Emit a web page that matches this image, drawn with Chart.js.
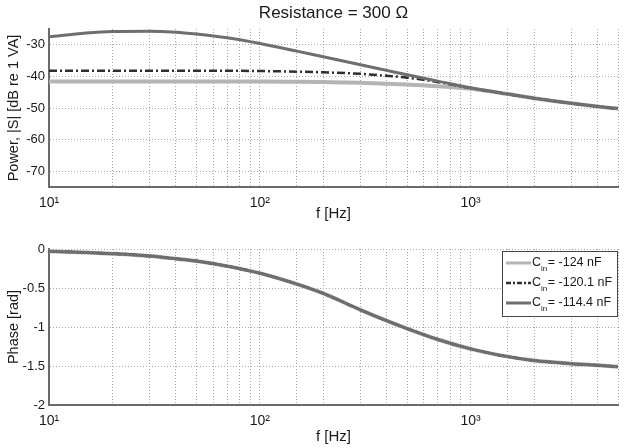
<!DOCTYPE html>
<html>
<head>
<meta charset="utf-8">
<script src="https://cdn.jsdelivr.net/npm/chart.js@4.4.0/dist/chart.umd.min.js"></script>
<style>
  html, body { margin: 0; padding: 0; background: #fff; }
  #wrap { position: relative; width: 626px; height: 448px; }
  .box { position: absolute; left: 0; width: 626px; height: 224px; }
</style>
</head>
<body>
<div id="wrap">
  <div class="box" style="top:0"><canvas id="power"></canvas></div>
  <div class="box" style="top:224px"><canvas id="phase"></canvas></div>
</div>
<script>
// frequencies [Hz]
const freqs = [10, 15, 20, 30, 40, 50, 70, 100, 150, 200, 300, 400, 500, 700, 1000, 1500, 2000, 3000, 4000, 5000];

// power |S| [dB re 1 VA]
const power124 = [-41.6, -41.6, -41.6, -41.6, -41.6, -41.6, -41.6, -41.6, -41.7, -41.8, -42.0, -42.3, -42.6, -43.1, -43.9, -45.6, -46.9, -48.5, -49.5, -50.2];
const power120 = [-38.2, -38.2, -38.2, -38.2, -38.2, -38.2, -38.2, -38.3, -38.5, -38.7, -39.2, -39.8, -40.4, -41.8, -43.7, -45.6, -46.9, -48.5, -49.5, -50.2];
const power114 = [-27.5, -26.3, -25.8, -25.7, -26.0, -26.6, -27.8, -29.6, -32.0, -33.8, -36.3, -38.1, -39.5, -41.5, -43.6, -45.6, -46.9, -48.5, -49.5, -50.2];

// phase [rad] (the three curves lie on top of each other)
const phase = [-0.03, -0.045, -0.06, -0.09, -0.125, -0.155, -0.22, -0.31, -0.45, -0.57, -0.78, -0.92, -1.02, -1.16, -1.28, -1.38, -1.43, -1.47, -1.49, -1.51];

const capLabels = ['-124 nF', '-120.1 nF', '-114.4 nF'];
const powerTicks = [-70, -60, -50, -40, -30];
const phaseTicks = [-2, -1.5, -1, -0.5, 0];
const decadeLabels = { 10: '10\u00B9', 100: '10\u00B2', 1000: '10\u00B3' };

const FONT = '"Liberation Sans", Arial, sans-serif';
Chart.defaults.font.family = FONT;
Chart.defaults.color = '#1a1a1a';

const styles = [
  { borderColor: '#b4b4b4', borderWidth: 4, borderDash: [] },
  { borderColor: '#2e2e2e', borderWidth: 2.5, borderDash: [8, 3, 2, 3] },
  { borderColor: '#6e6e6e', borderWidth: 3, borderDash: [] }
];

function makeDatasets(series) {
  return series.map((vals, i) => ({
    label: 'C_in = ' + capLabels[i],
    data: freqs.map((f, j) => ({ x: f, y: vals[j] })),
    borderColor: styles[i].borderColor,
    borderWidth: styles[i].borderWidth,
    borderDash: styles[i].borderDash,
    pointRadius: 0,
    fill: false,
    cubicInterpolationMode: 'monotone',
    order: 3 - i
  }));
}

const gridOpts = { color: '#a8a8a8', lineWidth: 1, drawTicks: false };
const borderOpts = { display: true, color: '#6a6a6a', width: 2, dash: [1, 2] };

function xScale(height, padBottom) {
  return {
    type: 'logarithmic',
    min: 10,
    max: 5000,
    grid: gridOpts,
    border: borderOpts,
    ticks: {
      autoSkip: false,
      maxRotation: 0,
      padding: 8,
      font: { size: 14 },
      callback: v => decadeLabels[v] || ''
    },
    title: { display: true, text: 'f [Hz]', font: { size: 15 }, padding: { top: 0, bottom: padBottom } },
    afterFit: s => { s.height = height; }
  };
}

function yScale(min, max, ticks, label) {
  return {
    min: min,
    max: max,
    grid: gridOpts,
    border: borderOpts,
    afterBuildTicks: s => { s.ticks = ticks.map(v => ({ value: v })); },
    ticks: { padding: 4, font: { size: 13 }, callback: v => String(v) },
    title: { display: true, text: label, font: { size: 14.5 }, padding: { top: 5, bottom: 0 } },
    afterFit: s => { s.width = 49; }
  };
}

const titlePlugin = {
  id: 'topTitle',
  afterDraw(chart) {
    const { ctx, chartArea } = chart;
    ctx.save();
    ctx.font = '17px ' + FONT;
    ctx.fillStyle = '#1a1a1a';
    ctx.textAlign = 'center';
    ctx.textBaseline = 'middle';
    ctx.fillText('Resistance = 300 \u03A9', (chartArea.left + chartArea.right) / 2, 13);
    ctx.restore();
  }
};

const legendPlugin = {
  id: 'capLegend',
  afterDraw(chart) {
    const { ctx, chartArea } = chart;
    const w = 116, h = 66;
    const x0 = chartArea.right - w, y0 = chartArea.top + 2;
    ctx.save();
    ctx.fillStyle = '#fff';
    ctx.fillRect(x0, y0, w, h);
    ctx.strokeStyle = '#444';
    ctx.lineWidth = 1;
    ctx.strokeRect(x0 + 0.5, y0 + 0.5, w - 1, h - 1);
    styles.forEach((st, i) => {
      const y = y0 + 12 + i * 20;
      ctx.strokeStyle = st.borderColor;
      ctx.lineWidth = Math.min(st.borderWidth, 3);
      ctx.setLineDash(i === 1 ? [5, 2, 2, 2] : []);
      ctx.beginPath();
      ctx.moveTo(x0 + 4, y);
      ctx.lineTo(x0 + 29, y);
      ctx.stroke();
      ctx.setLineDash([]);
      ctx.fillStyle = '#1a1a1a';
      ctx.textBaseline = 'middle';
      ctx.textAlign = 'left';
      let x = x0 + 30;
      ctx.font = '12.5px ' + FONT;
      ctx.fillText('C', x, y);
      x += ctx.measureText('C').width;
      ctx.font = '8px ' + FONT;
      ctx.fillText('in', x, y + 6);
      x += ctx.measureText('in').width + 0.5;
      ctx.font = '12.5px ' + FONT;
      ctx.fillText('= ' + capLabels[i], x, y);
    });
    ctx.restore();
  }
};

new Chart(document.getElementById('power'), {
  type: 'line',
  data: { datasets: makeDatasets([power124, power120, power114]) },
  options: {
    responsive: true,
    maintainAspectRatio: false,
    animation: false,
    layout: { padding: { top: 29, right: 0, left: 0, bottom: 0 } },
    plugins: { legend: { display: false }, tooltip: { enabled: false } },
    scales: {
      x: xScale(37, 1),
      y: yScale(-75, -25, powerTicks, 'Power, |S| [dB re 1 VA]')
    }
  },
  plugins: [titlePlugin]
});

new Chart(document.getElementById('phase'), {
  type: 'line',
  data: { datasets: makeDatasets([phase, phase, phase]) },
  options: {
    responsive: true,
    maintainAspectRatio: false,
    animation: false,
    layout: { padding: { top: 25, right: 0, left: 0, bottom: 0 } },
    plugins: { legend: { display: false }, tooltip: { enabled: false } },
    scales: {
      x: xScale(43, 2),
      y: yScale(-2, 0, phaseTicks, 'Phase [rad]')
    }
  },
  plugins: [legendPlugin]
});
</script>
</body>
</html>
